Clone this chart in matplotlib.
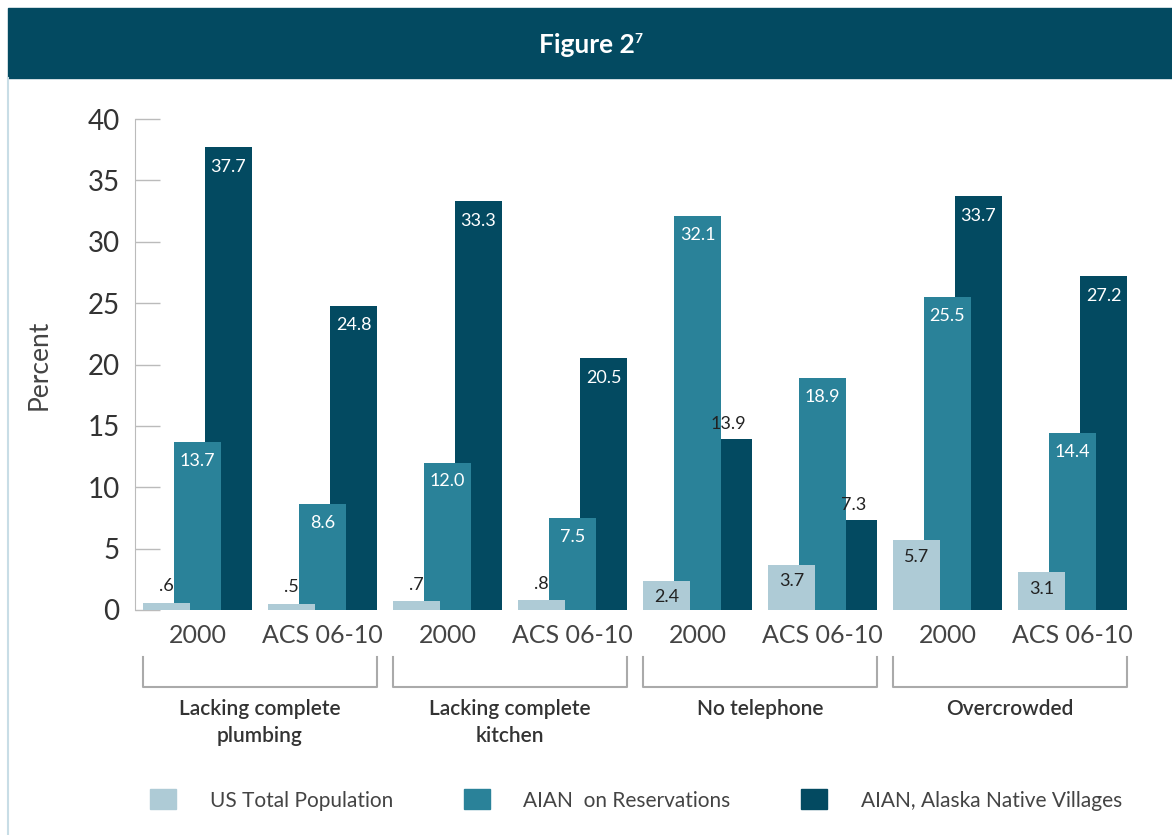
import numpy as np
import matplotlib
matplotlib.use('Agg')
import matplotlib.pyplot as plt
from matplotlib.patches import Rectangle, Patch

plt.rcParams['font.family'] = ['Lato', 'DejaVu Sans']

### DATA ###
periods = ['2000', 'ACS 06-10'] * 4
groups = ['Lacking complete\nplumbing', 'Lacking complete\nkitchen', 'No telephone', 'Overcrowded']
series = ['US Total Population', 'AIAN  on Reservations', 'AIAN, Alaska Native Villages']
us_total = [0.6, 0.5, 0.7, 0.8, 2.4, 3.7, 5.7, 3.1]
aian_res = [13.7, 8.6, 12.0, 7.5, 32.1, 18.9, 25.5, 14.4]
aian_ak = [37.7, 24.8, 33.3, 20.5, 13.9, 7.3, 33.7, 27.2]
y_ticks = [0, 5, 10, 15, 20, 25, 30, 35, 40]

### STYLE ###
c_light = '#aecbd6'
c_mid = '#2a8299'
c_dark = '#034a61'
c_text = '#444444'
bar_w = 0.376   # bars overlap a bit
step = 0.248

def fmt(v):
    s = '{0:.1f}'.format(v)
    return s[1:] if s.startswith('0') else s

fig = plt.figure(figsize=(11.72, 8.35), dpi=100)
W, H = 1172.0, 835.0

# header band + left frame line
fig.patches.append(Rectangle((8/W, 1-78/H), 1-8/W, 70/H, transform=fig.transFigure,
                             color=c_dark, zorder=0))
fig.add_artist(plt.Line2D([8/W, 8/W], [0, 1-78/H], transform=fig.transFigure,
                          color='#c8dde6', lw=1.5))
fig.text(587/W, 1-45/H, 'Figure 2', color='white', fontsize=19, fontweight='bold',
         ha='center', va='center')
fig.text(634/W, 1-33/H, '7', color='white', fontsize=10, fontweight='bold',
         ha='left', va='top')

ax = fig.add_axes([135/W, 1-610/H, 1000/W, 491/H])
x = np.arange(len(periods))

ax.bar(x + step, aian_ak, bar_w, color=c_dark, zorder=1)
ax.bar(x, aian_res, bar_w, color=c_mid, zorder=2)
ax.bar(x - step, us_total, bar_w, color=c_light, zorder=3)

# value labels
for i in range(len(x)):
    # US total
    v = us_total[i]
    if v < 1:
        ax.annotate(fmt(v), (x[i]-step, v), xytext=(0, 12), textcoords='offset points',
                    ha='center', va='center', fontsize=13, color='#222222', zorder=5)
    else:
        ax.annotate(fmt(v), (x[i]-step, v), xytext=(0, -12), textcoords='offset points',
                    ha='center', va='center', fontsize=13, color='#222222', zorder=5)
    # reservations
    v = aian_res[i]
    ax.annotate(fmt(v), (x[i], v), xytext=(0, -13.5), textcoords='offset points',
                ha='center', va='center', fontsize=13, color='white', zorder=5)
    # alaska villages
    v = aian_ak[i]
    if v < aian_res[i]:
        ax.annotate(fmt(v), (x[i]+step, v), xytext=(0, 11), textcoords='offset points',
                    ha='center', va='center', fontsize=13, color='#222222', zorder=5)
    else:
        ax.annotate(fmt(v), (x[i]+step, v), xytext=(0, -14), textcoords='offset points',
                    ha='center', va='center', fontsize=13, color='white', zorder=5)

ax.set_xlim(-0.5, 7.5)
ax.set_ylim(0, 40)
ax.set_yticks(y_ticks)
ax.set_yticklabels([str(v) for v in y_ticks], fontsize=20, color='#333333')
ax.set_xticks(x)
ax.set_xticklabels(periods, fontsize=18, color=c_text)
ax.tick_params(axis='x', length=0, pad=10)
ax.tick_params(axis='y', direction='in', length=18, width=1, color='#bbbbbb', pad=11)
for s in ['top', 'right', 'bottom']:
    ax.spines[s].set_visible(False)
ax.spines['left'].set_color('#bbbbbb')
ax.set_ylabel('Percent', fontsize=19, color=c_text)
ax.yaxis.set_label_coords(-0.083, 0.5)

# group brackets and names
tr = ax.get_xaxis_transform()
for g, name in enumerate(groups):
    x0 = 2*g - step - bar_w/2
    x1 = 2*g + 1 + step + bar_w/2
    ax.plot([x0, x0, x1, x1], [-0.0957, -0.1568, -0.1568, -0.0957], transform=tr,
            color='#aaaaaa', lw=1.5, clip_on=False)
    ax.text(2*g + 0.5, -0.182, name, transform=tr, ha='center', va='top',
            fontsize=15, fontweight='semibold', color='#333333', linespacing=1.42)

handles = [Patch(color=c) for c in (c_light, c_mid, c_dark)]
fig.legend(handles, series, loc='center', bbox_to_anchor=(636/W, 1-800/H), ncol=3,
           frameon=False, handlelength=1.25, handleheight=1.1,
           handletextpad=1.6, columnspacing=3.4,
           prop={'size': 15}, labelcolor=c_text)

fig.savefig('out.png', dpi=100)
